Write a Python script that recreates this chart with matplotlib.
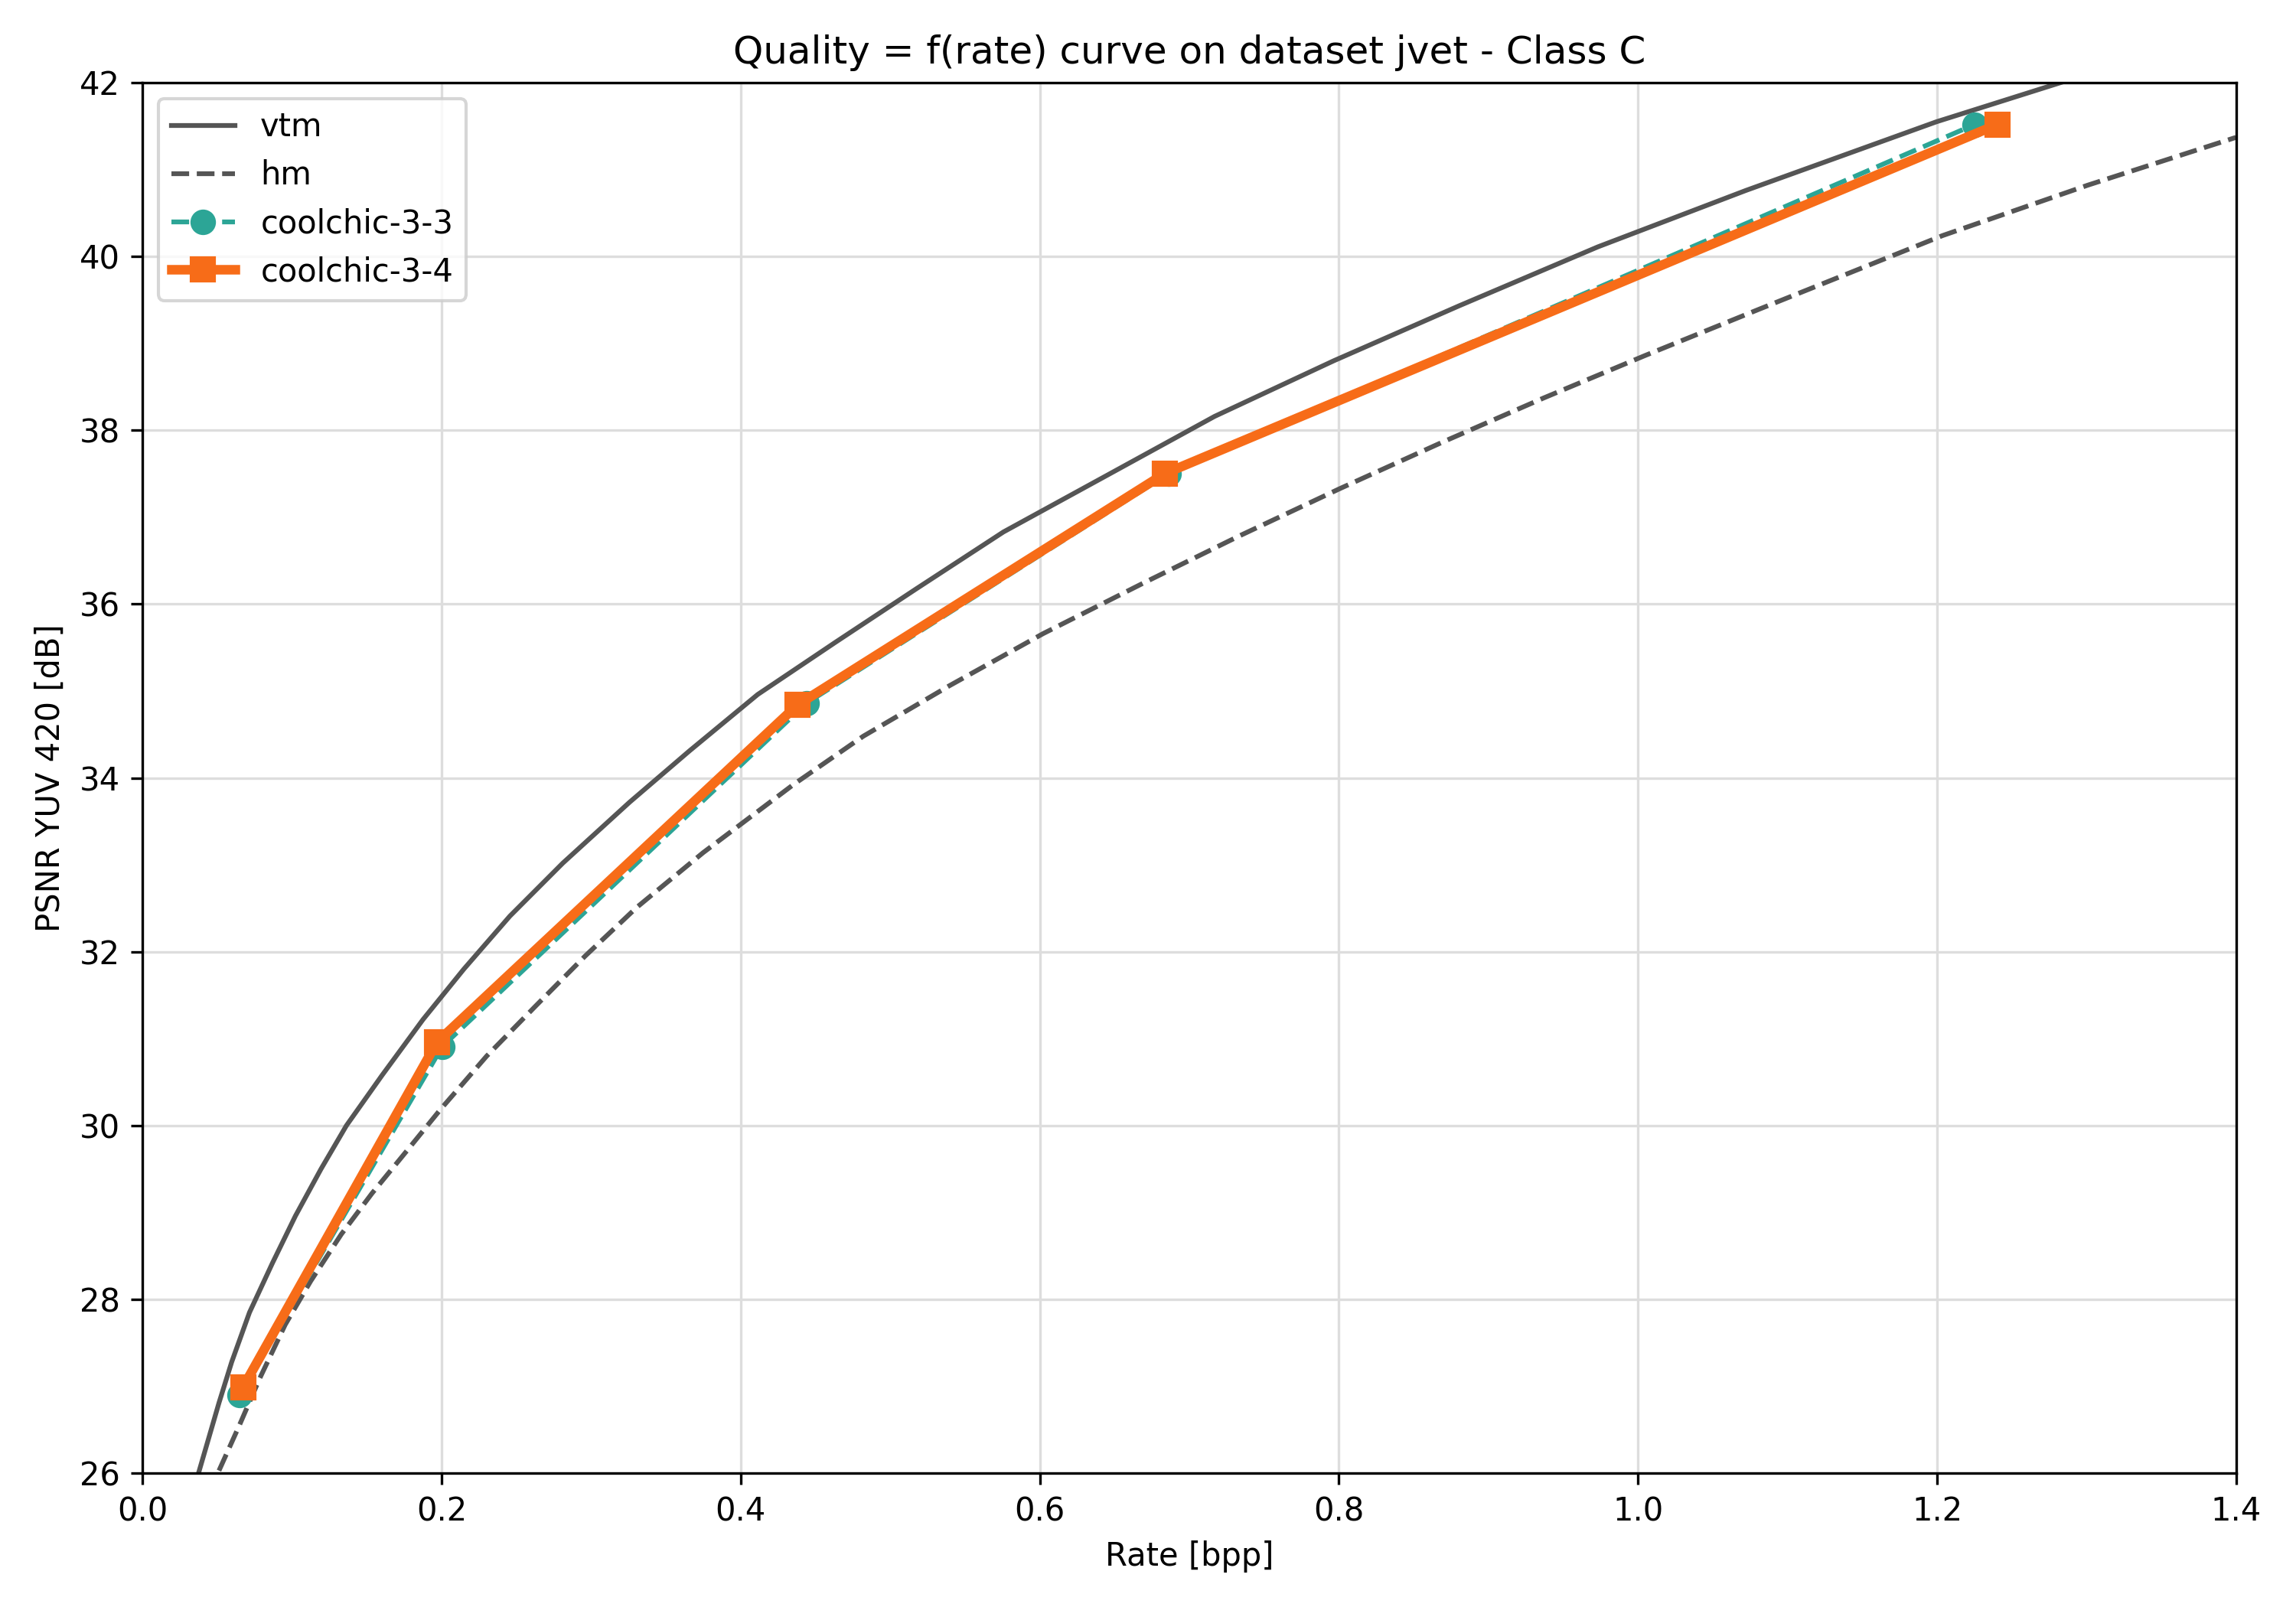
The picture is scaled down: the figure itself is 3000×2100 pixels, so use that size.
import matplotlib
matplotlib.use("Agg")
import matplotlib.pyplot as plt

vtm_rate = [0.0375, 0.0512, 0.0597, 0.0716, 0.087, 0.1023, 0.1194, 0.1364, 0.1603, 0.1876,
            0.2149, 0.2457, 0.2811, 0.3257, 0.3657, 0.4114, 0.4633, 0.5169, 0.5757, 0.6437,
            0.7169, 0.7966, 0.8801, 0.9731, 1.0722, 1.1996, 1.2825]
vtm_psnr = [26.0, 26.81, 27.28, 27.85, 28.42, 28.96, 29.5, 30.0, 30.58, 31.22,
            31.80, 32.41, 33.02, 33.72, 34.31, 34.96, 35.56, 36.17, 36.83, 37.47,
            38.16, 38.80, 39.43, 40.11, 40.76, 41.55, 42.0]

hm_rate = [0.0512, 0.0648, 0.0784, 0.0955, 0.1125, 0.1330, 0.1535, 0.1773, 0.1995, 0.2302,
           0.2626, 0.2960, 0.3305, 0.3749, 0.4350, 0.4820, 0.5395, 0.6022, 0.6702, 0.7329,
           0.8008, 0.8688, 0.9367, 1.0047, 1.0820, 1.2036, 1.3007, 1.3998]
hm_psnr = [26.03, 26.55, 27.09, 27.71, 28.21, 28.75, 29.22, 29.72, 30.19, 30.80,
           31.37, 31.95, 32.51, 33.14, 33.92, 34.48, 35.06, 35.66, 36.25, 36.78,
           37.33, 37.86, 38.37, 38.86, 39.40, 40.24, 40.82, 41.37]

cc33_rate = [0.0648, 0.2005, 0.4440, 0.6860, 1.2253]
cc33_psnr = [26.90, 30.91, 34.86, 37.50, 41.52]

cc34_rate = [0.0673, 0.1970, 0.4380, 0.6834, 1.2405]
cc34_psnr = [26.99, 30.96, 34.84, 37.50, 41.52]

fig, ax = plt.subplots(figsize=(10, 7), dpi=300)

ax.plot(vtm_rate, vtm_psnr, color="#555555", linestyle="-", linewidth=1.5, label="vtm")
ax.plot(hm_rate, hm_psnr, color="#555555", linestyle="--", linewidth=1.5, label="hm")
ax.plot(cc33_rate, cc33_psnr, color="#2ca596", linestyle="--", linewidth=1.5,
        marker="o", markersize=7, label="coolchic-3-3")
ax.plot(cc34_rate, cc34_psnr, color="#f76c18", linestyle="-", linewidth=3,
        marker="s", markersize=7, label="coolchic-3-4")

ax.set_xlim(0, 1.4)
ax.set_ylim(26, 42)
ax.grid(True, color="#dddddd", linewidth=0.8)
ax.set_axisbelow(True)
ax.set_xlabel("Rate [bpp]")
ax.set_ylabel("PSNR YUV 420 [dB]")
ax.set_title("Quality = f(rate) curve on dataset jvet - Class C")
ax.legend(loc="upper left")

fig.tight_layout()
fig.savefig("out.png", dpi=300)
